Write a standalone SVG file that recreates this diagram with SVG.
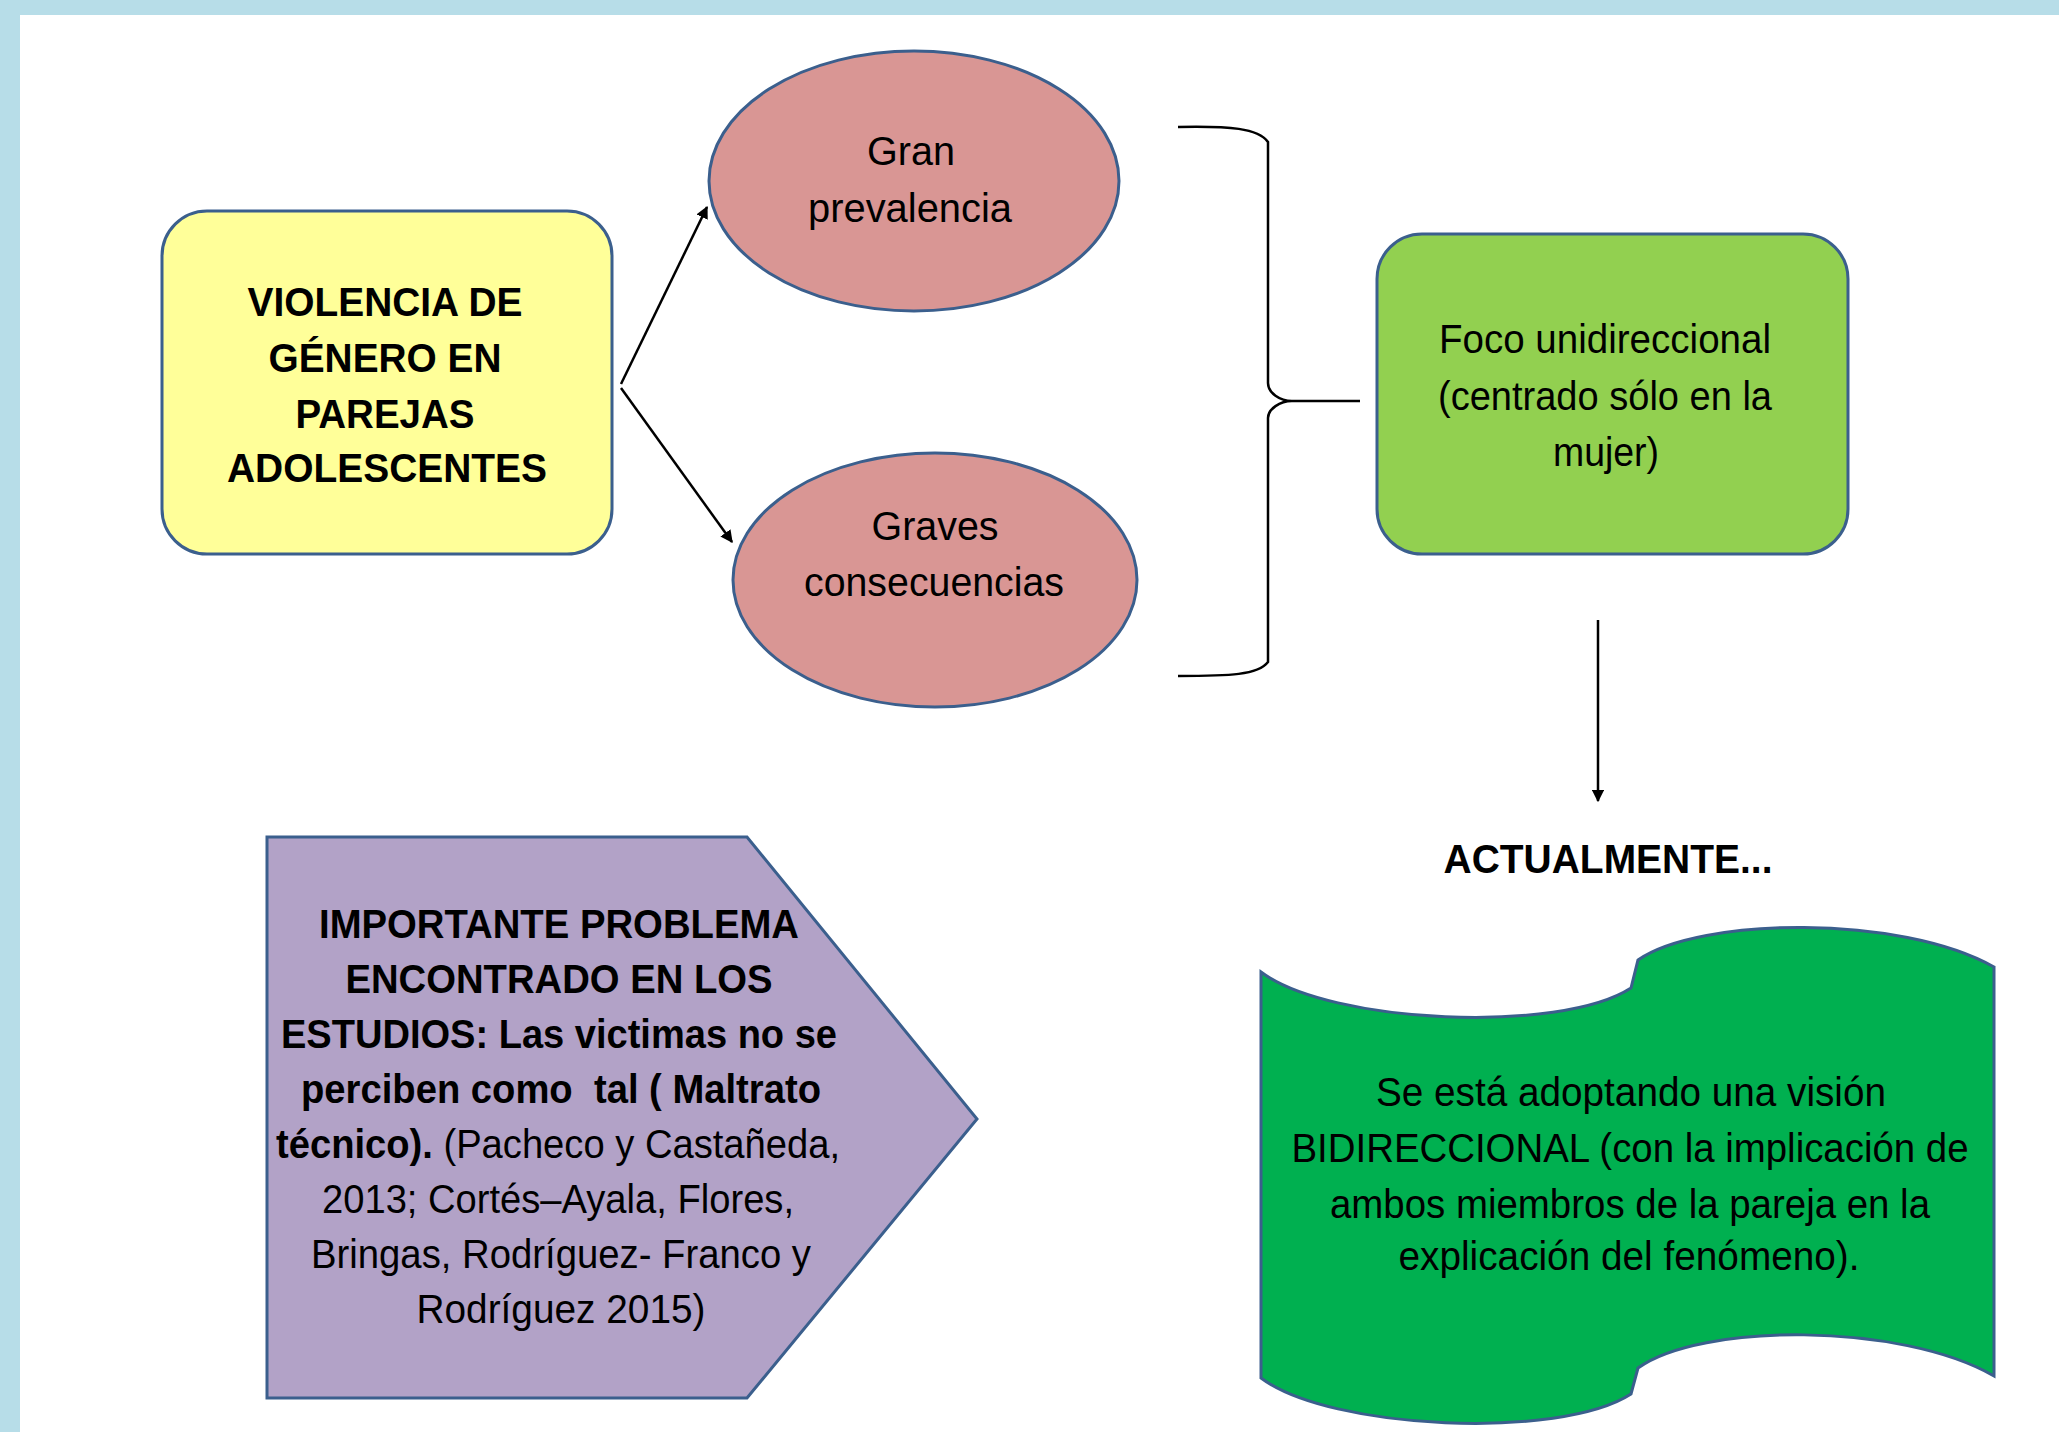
<svg xmlns="http://www.w3.org/2000/svg" width="2059" height="1432" viewBox="0 0 2059 1432">
<defs>
<marker id="ah" viewBox="0 0 10 10" refX="9" refY="5" markerWidth="5" markerHeight="5" orient="auto" markerUnits="strokeWidth">
<path d="M0,0 L10,5 L0,10 Z" fill="#000"/>
</marker>
<style>
.t{font-family:"Liberation Sans",Arial,sans-serif;font-size:40px;fill:#000;text-anchor:middle;white-space:pre}
.b{font-weight:bold}
.n{font-weight:normal}
.sh{stroke:#3b5f8d;stroke-width:3}
.cn{stroke:#000;stroke-width:2.5;fill:none}
</style>
</defs>
<rect x="0" y="0" width="2059" height="1432" fill="#ffffff"/>
<rect x="0" y="0" width="2059" height="15" fill="#b7dde8"/>
<rect x="0" y="0" width="20" height="1432" fill="#b7dde8"/>

<g id="connectors">
<line class="cn" x1="621" y1="384" x2="707" y2="207" marker-end="url(#ah)"/>
<line class="cn" x1="621" y1="388" x2="732" y2="542" marker-end="url(#ah)"/>
<path class="cn" d="M1178,127 C1230,126 1258,128 1268,142 L1268,383 C1268,393 1280,401 1292,401 L1360,401 M1292,401 C1280,401 1268,409 1268,418 L1268,662 C1258,675 1230,676 1178,676"/>
<line class="cn" x1="1598" y1="620" x2="1598" y2="801" marker-end="url(#ah)"/>
</g>

<g id="node-violencia">
<rect class="sh" x="162" y="211" width="450" height="343" rx="45" fill="#ffff99"/>
<text class="t b" x="385" y="316" textLength="275" lengthAdjust="spacingAndGlyphs">VIOLENCIA DE</text>
<text class="t b" x="385" y="372" textLength="233" lengthAdjust="spacingAndGlyphs">GÉNERO EN</text>
<text class="t b" x="385" y="428" textLength="179" lengthAdjust="spacingAndGlyphs">PAREJAS</text>
<text class="t b" x="387" y="482" textLength="320" lengthAdjust="spacingAndGlyphs">ADOLESCENTES</text>
</g>

<g id="node-prevalencia">
<ellipse class="sh" stroke-width="2.5" cx="914" cy="181" rx="205" ry="130" fill="#d99694"/>
<text class="t" x="911" y="165" textLength="88" lengthAdjust="spacingAndGlyphs">Gran</text>
<text class="t" x="910" y="222" textLength="204" lengthAdjust="spacingAndGlyphs">prevalencia</text>
</g>

<g id="node-consecuencias">
<ellipse class="sh" stroke-width="2.5" cx="935" cy="580" rx="202" ry="127" fill="#d99694"/>
<text class="t" x="935" y="540" textLength="127" lengthAdjust="spacingAndGlyphs">Graves</text>
<text class="t" x="934" y="596" textLength="260" lengthAdjust="spacingAndGlyphs">consecuencias</text>
</g>

<g id="node-foco">
<rect class="sh" x="1377" y="234" width="471" height="320" rx="45" fill="#92d050"/>
<text class="t" x="1605" y="353" textLength="332" lengthAdjust="spacingAndGlyphs">Foco unidireccional</text>
<text class="t" x="1605" y="410" textLength="334" lengthAdjust="spacingAndGlyphs">(centrado sólo en la</text>
<text class="t" x="1606" y="466" textLength="106" lengthAdjust="spacingAndGlyphs">mujer)</text>
</g>

<g id="node-actualmente">
<text class="t b" x="1608" y="873" textLength="329" lengthAdjust="spacingAndGlyphs">ACTUALMENTE...</text>
</g>

<g id="node-problema">
<path class="sh" d="M267,837 L747,837 L977,1119 L747,1398 L267,1398 Z" fill="#b2a2c7"/>
<text class="t b" x="559" y="938" textLength="480" lengthAdjust="spacingAndGlyphs">IMPORTANTE PROBLEMA</text>
<text class="t b" x="559" y="993" textLength="427" lengthAdjust="spacingAndGlyphs">ENCONTRADO EN LOS</text>
<text class="t b" x="559" y="1048" textLength="556" lengthAdjust="spacingAndGlyphs">ESTUDIOS: Las victimas no se</text>
<text class="t b" x="561" y="1103" textLength="520" lengthAdjust="spacingAndGlyphs">perciben como  tal ( Maltrato</text>
<text class="t" x="558" y="1158" textLength="564" lengthAdjust="spacingAndGlyphs"><tspan class="b">técnico).</tspan> (Pacheco y Castañeda,</text>
<text class="t" x="558" y="1213" textLength="472" lengthAdjust="spacingAndGlyphs">2013; Cortés–Ayala, Flores,</text>
<text class="t" x="561" y="1268" textLength="500" lengthAdjust="spacingAndGlyphs">Bringas, Rodríguez- Franco y</text>
<text class="t" x="561" y="1323" textLength="289" lengthAdjust="spacingAndGlyphs">Rodríguez 2015)</text>
</g>

<g id="node-bidireccional">
<path class="sh" stroke-width="2.5" d="M1261,972 C1330,1024 1560,1034 1631,988 L1638,960 C1700,917 1900,914 1994,967 L1994,1376 C1900,1322 1700,1323 1638,1368 L1631,1394 C1560,1440 1330,1430 1261,1378 Z" fill="#00b050"/>
<text class="t" x="1631" y="1106" textLength="510" lengthAdjust="spacingAndGlyphs">Se está adoptando una visión</text>
<text class="t" x="1630" y="1162" textLength="677" lengthAdjust="spacingAndGlyphs">BIDIRECCIONAL (con la implicación de</text>
<text class="t" x="1630" y="1218" textLength="600" lengthAdjust="spacingAndGlyphs">ambos miembros de la pareja en la</text>
<text class="t" x="1629" y="1270" textLength="461" lengthAdjust="spacingAndGlyphs">explicación del fenómeno).</text>
</g>
</svg>
